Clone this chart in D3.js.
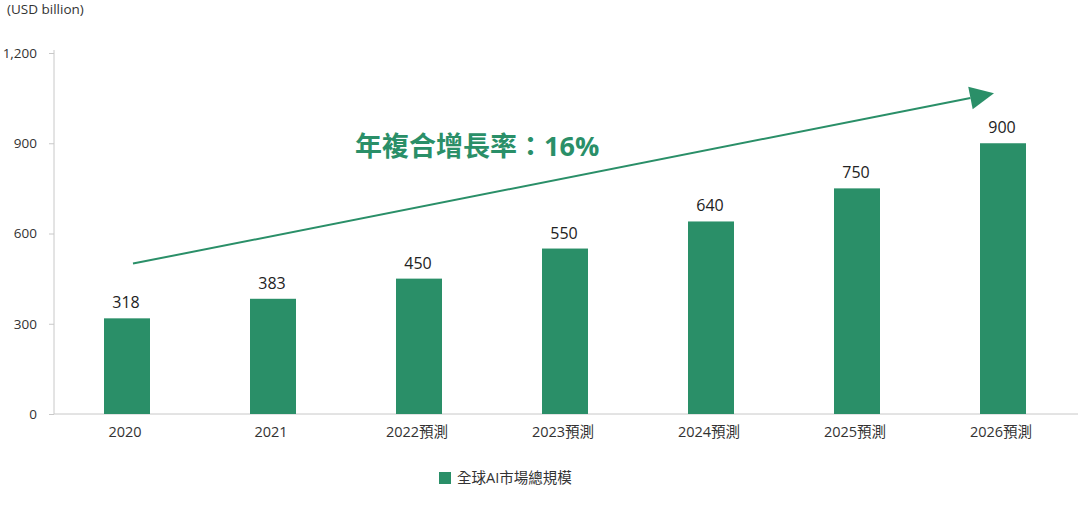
<!DOCTYPE html>
<html><head><meta charset="utf-8">
<script src="https://cdn.jsdelivr.net/npm/d3@7"></script>
<style>body{margin:0;background:#fff;font-family:"Open Sans","Noto Sans CJK TC",sans-serif;}</style>
</head><body><svg id="c" width="1078" height="523"></svg>
<script>
const categories = ["2020","2021","2022預測","2023預測","2024預測","2025預測","2026預測"];
const values = [318,383,450,550,640,750,900];
const yTicks = [0,300,600,900,1200];
const seriesName = "全球AI市場總規模";
const cagrLabel = "年複合增長率：16%";
const unitLabel = "(USD billion)";
const arrowFrom = {cat:"2020", value:500};
const arrowTo = {cat:"2026預測", value:1066};

(function(){
const green = "#2a8f68";
const svg = d3.select("#c");
const mLeft = 54, mRight = 1076, mTop = 53, mBottom = 414;
const x = d3.scaleBand().domain(categories).range([mLeft, mRight]).paddingInner(0).paddingOuter(0);
const y = d3.scaleLinear().domain([0,1200]).range([mBottom, mTop]);
const font = '"Open Sans","Noto Sans CJK TC",sans-serif';

svg.append("text").attr("x",7).attr("y",14).attr("font-size",13.5).attr("fill","#333").attr("font-family",font).text(unitLabel);

// y axis
const ya = svg.append("g").attr("transform",`translate(${mLeft},0)`).call(d3.axisLeft(y).tickValues(yTicks).tickSize(5).tickPadding(12).tickFormat(d3.format(",")));
ya.select(".domain").attr("stroke","#c8c8c8").attr("d",`M0,${mTop-3}V${mBottom}`);
ya.selectAll(".tick line").attr("stroke","#c8c8c8");
ya.selectAll("text").attr("font-size",13.5).attr("fill","#333").attr("font-family",font);

// x axis
const xa = svg.append("g").attr("transform",`translate(0,${mBottom})`).call(d3.axisBottom(x).tickSize(0).tickPadding(13));
xa.select(".domain").attr("stroke","#c8c8c8").attr("d",`M${mLeft},0H1078`);
xa.selectAll("text").attr("font-size",14.5).attr("fill","#333").attr("font-family",font).attr("dx",-2);

const bw = 46;
svg.append("g").selectAll("rect").data(values).join("rect")
  .attr("x",(d,i)=>x(categories[i])+x.bandwidth()/2-bw/2)
  .attr("y",d=>y(d)).attr("width",bw).attr("height",d=>y(0)-y(d)).attr("fill",green);

svg.append("g").selectAll("text").data(values).join("text")
  .attr("x",(d,i)=>x(categories[i])+x.bandwidth()/2-1).attr("y",d=>y(d)-10)
  .attr("text-anchor","middle").attr("font-size",16).attr("fill","#222").attr("font-family",font).text(d=>d);

// arrow
const x1 = x(arrowFrom.cat)+x.bandwidth()/2+6, y1 = y(arrowFrom.value);
const x2 = x(arrowTo.cat)+x.bandwidth()/2-9, y2 = y(arrowTo.value);
const ang = Math.atan2(y2-y1, x2-x1);
const L = 24, W = 11.5;
const bx = x2 - L*Math.cos(ang), by = y2 - L*Math.sin(ang);
svg.append("line").attr("x1",x1).attr("y1",y1).attr("x2",bx).attr("y2",by).attr("stroke",green).attr("stroke-width",2);
svg.append("path").attr("fill",green).attr("d",
  `M${x2},${y2}L${bx - W*Math.sin(ang)},${by + W*Math.cos(ang)}L${bx + W*Math.sin(ang)},${by - W*Math.cos(ang)}Z`);

svg.append("text").attr("x",355).attr("y",156).attr("font-size",27).attr("font-weight","bold").attr("fill",green).attr("font-family",font).text(cagrLabel);

// legend
svg.append("rect").attr("x",439).attr("y",472).attr("width",12).attr("height",12).attr("fill",green);
svg.append("text").attr("x",457).attr("y",483).attr("font-size",14.5).attr("fill","#333").attr("font-family",font).text(seriesName);
})();
</script></body></html>
